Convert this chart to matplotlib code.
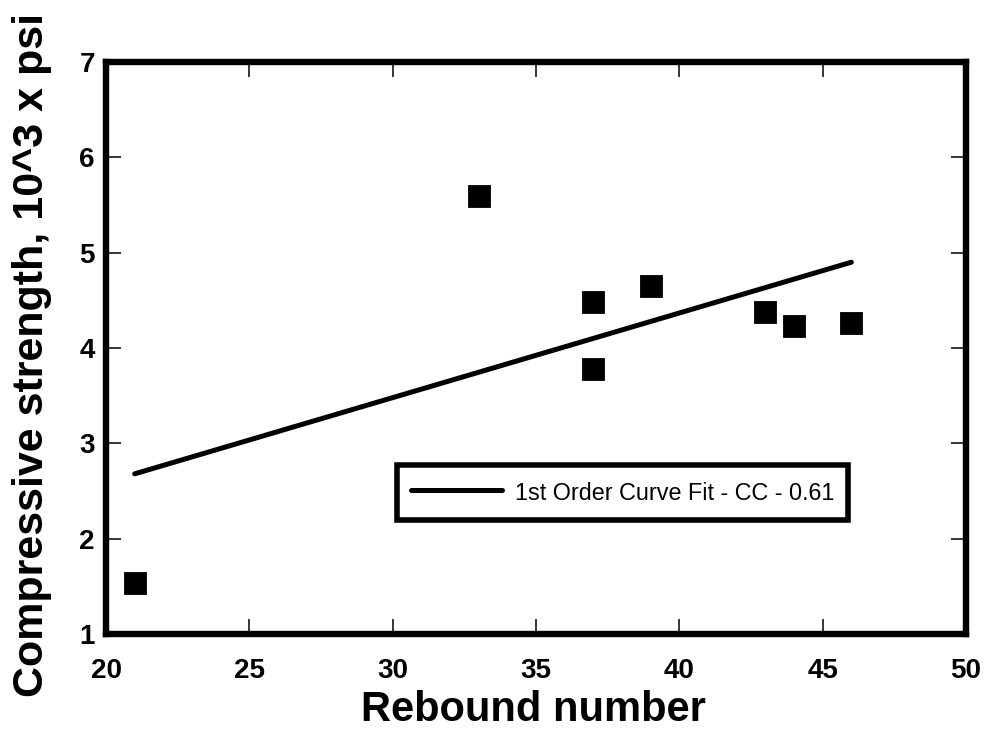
import matplotlib
matplotlib.use("Agg")
import matplotlib.pyplot as plt

# Data
rebound = [21, 33, 37, 37, 39, 43, 44, 46]
strength = [1.53, 5.59, 4.48, 3.78, 4.65, 4.38, 4.23, 4.26]

fit_x = [21, 46]
fit_y = [2.68, 4.90]
fit_label = "1st Order Curve Fit - CC - 0.61"

x_ticks = [20, 25, 30, 35, 40, 45, 50]
y_ticks = [1, 2, 3, 4, 5, 6, 7]

plt.rcParams['font.family'] = ['Liberation Sans', 'DejaVu Sans']

fig = plt.figure(figsize=(9.87, 7.31), dpi=100)
L, R, T, B = 106, 966, 62, 634
W, H = 987, 731
ax = fig.add_axes([L / W, 1 - B / H, (R - L) / W, (B - T) / H])

ax.plot(fit_x, fit_y, color='black', linewidth=3.6, solid_capstyle='round',
        label=fit_label, zorder=3)
ax.plot(rebound, strength, linestyle='none', marker='s', markersize=16.3,
        markerfacecolor='black', markeredgecolor='black', markeredgewidth=0.6,
        zorder=4)

ax.set_xlim(20, 50)
ax.set_ylim(1, 7)
ax.set_xticks(x_ticks)
ax.set_yticks(y_ticks)
ax.set_xticklabels([str(v) for v in x_ticks])
ax.set_yticklabels([str(v) for v in y_ticks])

ax.tick_params(axis='both', which='major', direction='in', length=10.8, width=1.1,
               top=True, right=True, color='black')
ax.tick_params(axis='x', pad=17.5, labelsize=20)
ax.tick_params(axis='y', pad=8, labelsize=20)
for lab in ax.get_xticklabels() + ax.get_yticklabels():
    lab.set_fontweight('bold')

for sp in ax.spines.values():
    sp.set_linewidth(4.6)
    sp.set_color('black')

ax.set_xlabel('Rebound number', fontsize=30, fontweight='bold', va='baseline')
ax.xaxis.set_label_coords((533.5 - L) / (R - L), (B - 721) / (B - T))
ax.set_ylabel('Compressive strength, 10^3 x psi', fontsize=31, fontweight='bold',
              va='baseline')
ax.yaxis.set_label_coords((43 - L) / (R - L), (B - 355) / (B - T))

leg = ax.legend(loc='center',
                bbox_to_anchor=((622.5 - L) / (R - L), (B - 492.5) / (B - T)),
                frameon=True, fancybox=False, shadow=False, framealpha=1,
                edgecolor='black', fontsize=16.8, handlelength=3.9,
                handletextpad=0.55, borderpad=0.6, handleheight=1.4)
leg.get_frame().set_linewidth(4)

fig.savefig('out.png', dpi=100)
